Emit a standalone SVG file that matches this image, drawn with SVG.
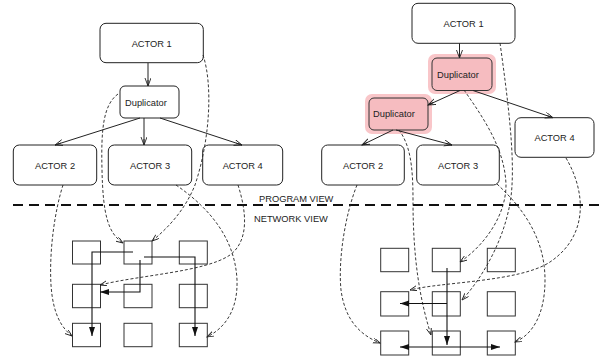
<svg xmlns="http://www.w3.org/2000/svg" width="605" height="364" viewBox="0 0 605 364">
<style>
text{font-family:"Liberation Sans",Arial,sans-serif;font-size:9.3px;fill:#222}
.node{fill:#fff;stroke:#222;stroke-width:1}
.hl{fill:#f6bcc0;stroke:#333;stroke-width:1}
.glow{fill:#f9c6c9;stroke:none}
.cell{fill:#fff;stroke:#333;stroke-width:1}
.ed{fill:none;stroke:#222;stroke-width:1}
.dd{fill:none;stroke:#222;stroke-width:0.9;stroke-dasharray:3,2}
.net{fill:none;stroke:#111;stroke-width:1.1}
</style>
<defs>
<marker id="oa" markerWidth="9" markerHeight="7" refX="8" refY="3" orient="auto" markerUnits="userSpaceOnUse"><path d="M0,0 L8,3 L0,6 M2,3 L8,3" fill="none" stroke="#222" stroke-width="0.9"/></marker>
<marker id="da" markerWidth="8" markerHeight="6" refX="7" refY="2.5" orient="auto" markerUnits="userSpaceOnUse"><path d="M0,0 L7,2.5 L0,5" fill="none" stroke="#222" stroke-width="0.9"/></marker>
<marker id="fa" markerWidth="10" markerHeight="7" refX="9" refY="3" orient="auto" markerUnits="userSpaceOnUse"><path d="M0,0 L9,3 L0,6 z" fill="#111"/></marker>
</defs>

<g id="left-actor1"><rect class="node" x="100" y="23.3" width="103.3" height="39.4" rx="6"/><text x="151.7" y="46.5" text-anchor="middle">ACTOR 1</text></g>
<g id="left-dup"><rect class="node" x="120" y="86" width="59" height="32" rx="5"/><text x="125" y="105.5">Duplicator</text></g>
<g id="left-actor2"><rect class="node" x="13.3" y="145" width="83.4" height="40" rx="6"/><text x="55" y="168.5" text-anchor="middle">ACTOR 2</text></g>
<g id="left-actor3"><rect class="node" x="108.3" y="145" width="83.4" height="40" rx="6"/><text x="150" y="168.5" text-anchor="middle">ACTOR 3</text></g>
<g id="left-actor4"><rect class="node" x="202.7" y="145" width="80" height="40" rx="6"/><text x="242.7" y="168.5" text-anchor="middle">ACTOR 4</text></g>

<g id="right-actor1"><rect class="node" x="412" y="3.3" width="103" height="40" rx="6"/><text x="463.5" y="26.8" text-anchor="middle">ACTOR 1</text></g>
<g id="right-dup1"><rect class="glow" x="428" y="54" width="68" height="40" rx="7"/><rect class="hl" x="432" y="58" width="60" height="32.5" rx="5"/><text x="437" y="78.3">Duplicator</text></g>
<g id="right-dup2"><rect class="glow" x="365" y="94" width="67" height="40" rx="7"/><rect class="hl" x="369" y="98" width="59" height="32" rx="5"/><text x="373" y="117.3">Duplicator</text></g>
<g id="right-actor2"><rect class="node" x="321.7" y="145" width="82.6" height="40" rx="6"/><text x="363" y="168.5" text-anchor="middle">ACTOR 2</text></g>
<g id="right-actor3"><rect class="node" x="416.7" y="145" width="82.6" height="40" rx="6"/><text x="458" y="168.5" text-anchor="middle">ACTOR 3</text></g>
<g id="right-actor4"><rect class="node" x="515" y="117.7" width="79" height="39.6" rx="6"/><text x="554.5" y="141" text-anchor="middle">ACTOR 4</text></g>

<g id="divider">
<line x1="13" y1="205" x2="605" y2="205" stroke="#111" stroke-width="2" stroke-dasharray="10,6"/>
<text x="259" y="201.5">PROGRAM VIEW</text>
<text x="254" y="222">NETWORK VIEW</text>
</g>

<g id="left-grid">
<rect class="cell" x="72.5" y="241" width="28" height="23"/><rect class="cell" x="124" y="241" width="28" height="23"/><rect class="cell" x="179.3" y="241" width="28" height="23"/>
<rect class="cell" x="72.5" y="284.3" width="28" height="23.4"/><rect class="cell" x="124" y="284.3" width="28" height="23.4"/><rect class="cell" x="179.3" y="284.3" width="28" height="23.4"/>
<rect class="cell" x="72.5" y="323.3" width="28" height="23.4"/><rect class="cell" x="124" y="323.3" width="28" height="23.4"/><rect class="cell" x="179.3" y="323.3" width="28" height="23.4"/>
</g>
<g id="right-grid">
<rect class="cell" x="380.7" y="248.3" width="28" height="23.4"/><rect class="cell" x="432.3" y="248.3" width="28" height="23.4"/><rect class="cell" x="487.3" y="248.3" width="28" height="23.4"/>
<rect class="cell" x="380.7" y="291.7" width="28" height="24.3"/><rect class="cell" x="432.3" y="291.7" width="28" height="24.3"/><rect class="cell" x="487.3" y="291.7" width="28" height="24.3"/>
<rect class="cell" x="380.7" y="331" width="28" height="24"/><rect class="cell" x="432.3" y="331" width="28" height="24"/><rect class="cell" x="487.3" y="331" width="28" height="24"/>
</g>

<g id="connectors">
<path class="ed" d="M148,63 L148,86" marker-end="url(#oa)"/>
<path class="ed" d="M140,118 L55,145" marker-end="url(#oa)"/>
<path class="ed" d="M144,118 L144,145" marker-end="url(#oa)"/>
<path class="ed" d="M160,118 L242,145" marker-end="url(#oa)"/>

<path class="ed" d="M459.5,43.3 L459.5,58" marker-end="url(#oa)"/>
<path class="ed" d="M460,90.5 L428,105" marker-end="url(#oa)"/>
<path class="ed" d="M473,90.5 L553,117.7" marker-end="url(#oa)"/>
<path class="ed" d="M393,130 L362,145" marker-end="url(#oa)"/>
<path class="ed" d="M396,130 L452,145" marker-end="url(#oa)"/>

<path class="dd" d="M118,94 C103,105 101,130 102,170 C103,215 108,233 123,243" marker-end="url(#da)"/>
<path class="dd" d="M203,55 C213,85 210,140 195,185 C185,210 168,228 152,241" marker-end="url(#da)"/>
<path class="dd" d="M176,185 C205,205 235,235 237,280 C238,310 225,328 207,337" marker-end="url(#da)"/>
<path class="dd" d="M238,185 C246,210 250,240 230,255 C205,272 140,275 100,285" marker-end="url(#da)"/>
<path class="dd" d="M63,185 C55,210 49,250 51,285 C53,315 62,328 72,336" marker-end="url(#da)"/>

<path class="dd" d="M357,185 C345,215 338,260 341,290 C345,320 360,335 380,343" marker-end="url(#da)"/>
<path class="dd" d="M399,130 C410,145 413,165 413,200 C413,260 420,300 431,335" marker-end="url(#da)"/>
<path class="dd" d="M500,43 C508,100 514,150 512,185 C510,230 485,275 462,300" marker-end="url(#da)"/>
<path class="dd" d="M464,90 C485,120 505,150 506,185 C506,215 485,245 460,262" marker-end="url(#da)"/>
<path class="dd" d="M497,184 C525,210 545,240 545,280 C545,315 532,335 515,342" marker-end="url(#da)"/>
<path class="dd" d="M566,158 C585,190 590,235 550,262 C520,282 440,282 410,290" marker-end="url(#da)"/>

<path class="net" d="M133,252 L92,252 L92,336" marker-end="url(#fa)"/>
<path class="net" d="M144,257 L195,257 L195,336" marker-end="url(#fa)"/>
<path class="net" d="M140,260 L140,292 L100,292" marker-end="url(#fa)"/>

<path class="net" d="M447,268 L447,345" marker-end="url(#fa)"/>
<path class="net" d="M447,303.5 L400,303.5" marker-end="url(#fa)"/>
<path class="net" d="M448,347 L400,347" marker-end="url(#fa)"/>
<path class="net" d="M448,347 L500,347" marker-end="url(#fa)"/>
</g>
</svg>
